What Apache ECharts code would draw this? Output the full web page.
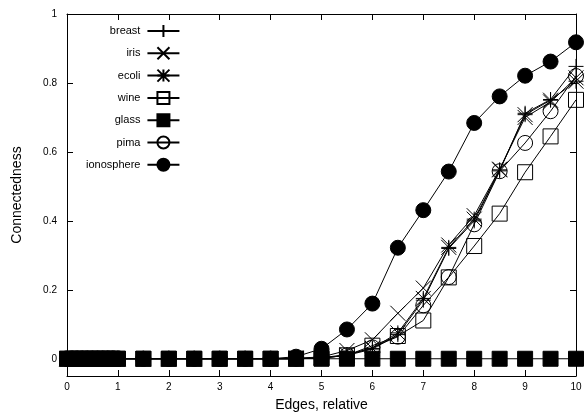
<!DOCTYPE html>
<html>
<head>
<meta charset="utf-8">
<script src="https://cdn.jsdelivr.net/npm/echarts@6/dist/echarts.min.js"></script>
<style>
  html, body { margin: 0; padding: 0; background: #fff; }
  #chart { width: 585px; height: 417px; }
</style>
</head>
<body>
<div id="chart"></div>
<script>
// x positions (relative edges)
const edges = [0, 0.1, 0.2, 0.3, 0.4, 0.5, 0.6, 0.7, 0.8, 0.9, 1,
  1.5, 2, 2.5, 3, 3.5, 4, 4.5, 5, 5.5, 6, 6.5, 7, 7.5, 8, 8.5, 9, 9.5, 10]

const zeros17 = [0, 0, 0, 0, 0, 0, 0, 0, 0, 0, 0, 0, 0, 0, 0, 0, 0]
const breast = zeros17.concat([0, 0.002, 0.01, 0.028, 0.07, 0.17, 0.32, 0.40, 0.545, 0.712, 0.752, 0.848])
const iris = zeros17.concat([0.002, 0.005, 0.024, 0.055, 0.132, 0.205, 0.33, 0.415, 0.55, 0.70, 0.745, 0.815])
const ecoli = zeros17.concat([0, 0.003, 0.012, 0.03, 0.075, 0.175, 0.323, 0.405, 0.548, 0.708, 0.75, 0.805])
const wine = zeros17.concat([0, 0.002, 0.01, 0.038, 0.066, 0.111, 0.236, 0.327, 0.421, 0.541, 0.645, 0.751])
const glass = zeros17.concat([0, 0, 0, 0, 0, 0, 0, 0, 0, 0, 0, 0])
const pima = zeros17.concat([0, 0.002, 0.01, 0.033, 0.064, 0.155, 0.237, 0.39, 0.544, 0.626, 0.718, 0.82])
const ionosphere = zeros17.concat([0.006, 0.029, 0.085, 0.16, 0.322, 0.431, 0.543, 0.684, 0.761, 0.821, 0.862, 0.918])

const yTicks = [0, 0.2, 0.4, 0.6, 0.8, 1]

const font = 'Liberation Sans, Arial, sans-serif'
const plusPath = 'path://M0,5L10,5M5,0L5,10'
const crossPath = 'path://M0,0L10,10M10,0L0,10'
const starPath = 'path://M0,5L10,5M5,0L5,10M0,0L10,10M10,0L0,10'

function makeSeries (name, values, symbol, size, fill) {
    return {
        name: name,
        type: 'line',
        data: edges.map((x, i) => [x, values[i]]),
        symbol: symbol,
        symbolSize: size,
        showAllSymbol: true,
        animation: false,
        lineStyle: { width: 1, color: '#000' },
        itemStyle: { color: fill, borderColor: '#000', borderWidth: 1 }
    }
}

const chart = echarts.init(document.getElementById('chart'))
const axisCommon = {
    axisLine: { show: true, onZero: false, lineStyle: { color: '#000', width: 1 } },
    axisTick: { show: true, inside: true, length: 6, lineStyle: { color: '#000' } },
    splitLine: { show: false }
}

chart.setOption({
    animation: false,
    grid: { left: 67, right: 9, top: 14, bottom: 40 },
    legend: {
        orient: 'vertical',
        left: 81,
        top: 19,
        align: 'right',
        itemWidth: 32,
        itemHeight: 15,
        itemGap: 8.3,
        textStyle: { fontFamily: font, fontSize: 11, color: '#000', width: 66, align: 'right', padding: [0, 2, 0, 0] },
        data: ['breast', 'iris', 'ecoli', 'wine', 'glass', 'pima', 'ionosphere']
    },
    xAxis: [
        Object.assign({
            type: 'value', min: 0, max: 10, interval: 1, position: 'bottom',
            name: 'Edges, relative', nameLocation: 'middle', nameGap: 22,
            nameTextStyle: { fontFamily: font, fontSize: 14, color: '#000' },
            axisLabel: { fontFamily: font, fontSize: 10, color: '#000', margin: 6 }
        }, axisCommon),
        Object.assign({
            type: 'value', min: 0, max: 10, interval: 1, position: 'top',
            axisLabel: { show: false }
        }, axisCommon)
    ],
    yAxis: [
        Object.assign({
            type: 'value', min: -0.05, max: 1, position: 'left',
            name: 'Connectedness', nameLocation: 'middle', nameGap: 43,
            nameTextStyle: { fontFamily: font, fontSize: 14, color: '#000' },
            axisLabel: { fontFamily: font, fontSize: 10, color: '#000', margin: 10, customValues: yTicks },
            axisTick: { show: true, inside: true, length: 6, lineStyle: { color: '#000' }, customValues: yTicks },
            axisLine: axisCommon.axisLine,
            splitLine: { show: false }
        }),
        Object.assign({
            type: 'value', min: -0.05, max: 1, position: 'right',
            axisLabel: { show: false, customValues: yTicks },
            axisTick: { show: true, inside: true, length: 6, lineStyle: { color: '#000' }, customValues: yTicks },
            axisLine: axisCommon.axisLine,
            splitLine: { show: false }
        })
    ],
    series: [
        makeSeries('breast', breast, plusPath, 15, 'transparent'),
        makeSeries('iris', iris, crossPath, 15, 'transparent'),
        makeSeries('ecoli', ecoli, starPath, 15, 'transparent'),
        makeSeries('wine', wine, 'rect', 15, 'transparent'),
        makeSeries('glass', glass, 'rect', 15, '#000'),
        makeSeries('pima', pima, 'circle', 15, 'transparent'),
        makeSeries('ionosphere', ionosphere, 'circle', 15, '#000')
    ]
})
</script>
</body>
</html>
